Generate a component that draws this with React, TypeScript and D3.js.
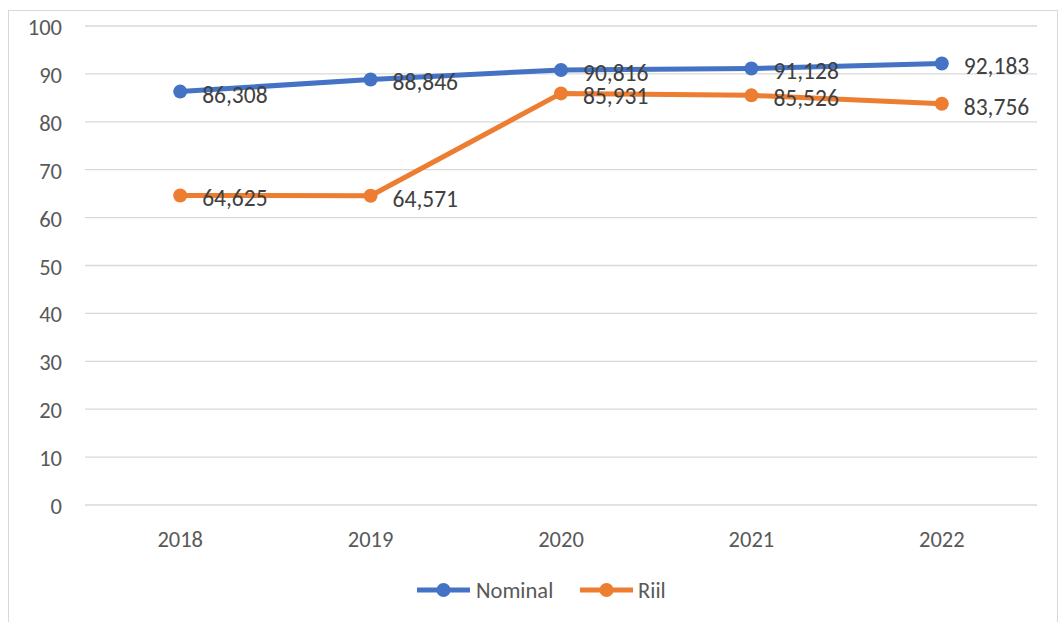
import React from "react";
import * as d3 from "d3";

const years = ["2018", "2019", "2020", "2021", "2022"];
const nominal = [86.308, 88.846, 90.816, 91.128, 92.183];
const riil = [64.625, 64.571, 85.931, 85.526, 83.756];
const yTicks = [0, 10, 20, 30, 40, 50, 60, 70, 80, 90, 100];

const seriesList = [
  { name: "Nominal", values: nominal, color: "#4472C4" },
  { name: "Riil", values: riil, color: "#ED7D31" },
];

const W = 1059;
const H = 622;
const FONT = "Calibri, Carlito, 'Liberation Sans', Arial, sans-serif";

export default function App() {
  const x = d3.scaleBand<string>().domain(years).range([85, 1037]);
  const y = d3.scaleLinear().domain([0, 100]).range([505, 26]);
  const cx = (d: string) => (x(d) as number) + x.bandwidth() / 2;
  const fmt = (v: number) => v.toFixed(3).replace(".", ",");
  const line = d3
    .line<number>()
    .x((_, i) => cx(years[i]))
    .y((v) => y(v));

  const legendItems = [
    { s: seriesList[0], x0: 417, tx: 476 },
    { s: seriesList[1], x0: 580, tx: 638 },
  ];

  return (
    <svg
      width={W}
      height={H}
      style={{ position: "absolute", left: 0, top: 0, background: "#fff" }}
      fontFamily={FONT}
    >
      <rect x={0} y={0} width={W} height={H} fill="#fff" />
      <rect x={8.5} y={10.5} width={1049} height={640} fill="none" stroke="#d9d9d9" strokeWidth={1} />
      {yTicks.map((t) => (
        <g key={t}>
          <line x1={85} x2={1037} y1={y(t)} y2={y(t)} stroke="#d9d9d9" strokeWidth={1.3} />
          <text x={62} y={y(t) + 9} textAnchor="end" fontSize={22.5} fill="#595959">
            {t}
          </text>
        </g>
      ))}
      {years.map((yr) => (
        <text key={yr} x={cx(yr)} y={547} textAnchor="middle" fontSize={22.5} fill="#595959">
          {yr}
        </text>
      ))}
      {seriesList.map((s) => (
        <g key={s.name}>
          <path d={line(s.values) || ""} fill="none" stroke={s.color} strokeWidth={5} strokeLinejoin="round" strokeLinecap="round" />
          {s.values.map((v, i) => (
            <circle key={i} cx={cx(years[i])} cy={y(v)} r={7} fill={s.color} />
          ))}
        </g>
      ))}
      {seriesList.map((s) => (
        <g key={s.name + "l"}>
          {s.values.map((v, i) => (
            <text key={i} x={cx(years[i]) + 22} y={y(v) + 11} fontSize={23.5} fill="#404040">
              {fmt(v)}
            </text>
          ))}
        </g>
      ))}
      {legendItems.map(({ s, x0, tx }) => (
        <g key={s.name + "lg"}>
          <line x1={x0} x2={x0 + 53} y1={590} y2={590} stroke={s.color} strokeWidth={5} />
          <circle cx={x0 + 26.5} cy={590} r={7} fill={s.color} />
          <text x={tx} y={598} fontSize={22.5} fill="#595959">
            {s.name}
          </text>
        </g>
      ))}
    </svg>
  );
}
